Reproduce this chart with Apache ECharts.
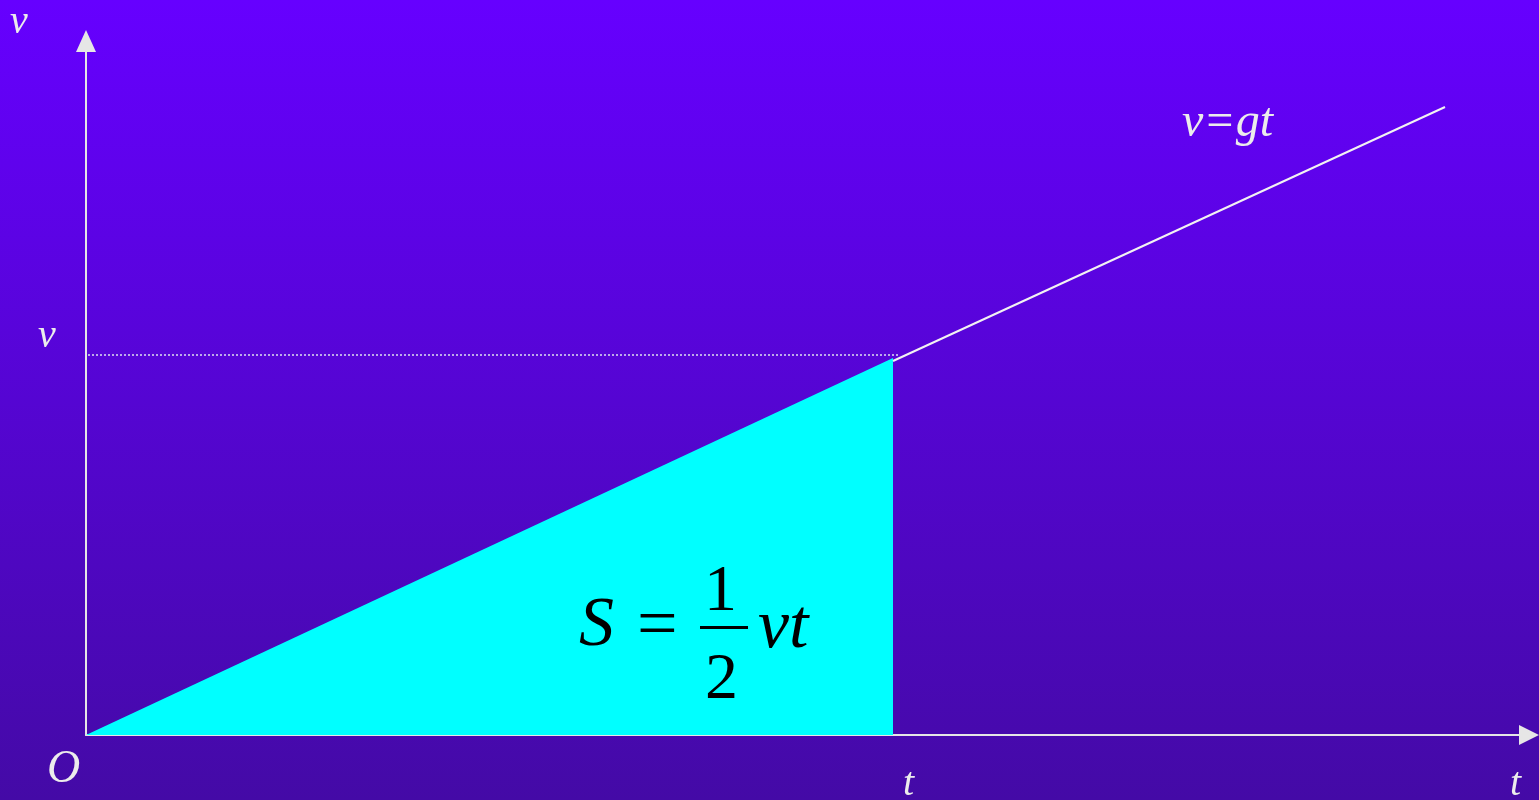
<!DOCTYPE html>
<html>
<head>
<meta charset="utf-8">
<script src="https://cdn.jsdelivr.net/npm/echarts@6/dist/echarts.min.js"></script>
<style>
html, body { margin: 0; padding: 0; }
#main { width: 1539px; height: 800px; }
</style>
</head>
<body>
<div id="main"></div>
<script>
// 时间 t 与速度 v (1 单位 = 100px)
var areaT = [0, 8.07];
var areaV = [0, 3.77];
var lineT = [8.07, 13.59];
var lineV = [3.74, 6.28];
var dotT = [-0.06, 8.14];
var dotV = [3.80, 3.80];

function pairs(xs, ys) {
    var out = [];
    for (var i = 0; i < xs.length; i++) {
        out.push([xs[i], ys[i]]);
    }
    return out;
}

var textColor = '#ececec';
var serif = '"Liberation Serif", "DejaVu Serif", serif';

var myChart = echarts.init(document.getElementById('main'));
var option = {
    animation: false,
    backgroundColor: {
        type: 'linear', x: 0, y: 0, x2: 0, y2: 1,
        colorStops: [
            { offset: 0, color: '#6600ff' },
            { offset: 1, color: '#440aa6' }
        ]
    },
    grid: { left: 86, right: 10, top: 41, bottom: 65 },
    xAxis: {
        type: 'value', min: 0, max: 14.43,
        axisLine: {
            onZero: true,
            symbol: ['none', 'triangle'],
            symbolSize: [20, 20],
            lineStyle: { color: '#e6e6e6', width: 2 }
        },
        axisTick: { show: false },
        axisLabel: { show: false },
        splitLine: { show: false }
    },
    yAxis: {
        type: 'value', min: 0, max: 6.94,
        axisLine: {
            show: true,
            onZero: true,
            symbol: ['none', 'triangle'],
            symbolSize: [20, 22],
            lineStyle: { color: '#e6e6e6', width: 2 }
        },
        axisTick: { show: false },
        axisLabel: { show: false },
        splitLine: { show: false }
    },
    series: [
        {
            type: 'line',
            data: pairs(areaT, areaV),
            showSymbol: false,
            lineStyle: { width: 0 },
            areaStyle: { color: '#00ffff', opacity: 1 },
            z: 2
        },
        {
            type: 'line',
            data: pairs(lineT, lineV),
            showSymbol: false,
            lineStyle: { color: '#f2f2f2', width: 2 },
            z: 3
        },
        {
            type: 'line',
            data: pairs(dotT, dotV),
            showSymbol: false,
            clip: false,
            lineStyle: { color: '#e0e0f0', width: 1.5, type: [2, 2] },
            z: 3
        }
    ],
    graphic: [
        { type: 'text', z: 10, left: 10, top: 2, style: { text: 'v', fill: textColor, font: 'italic 40px ' + serif } },
        { type: 'text', z: 10, left: 38, top: 316, style: { text: 'v', fill: textColor, font: 'italic 40px ' + serif } },
        { type: 'text', z: 10, left: 47, top: 747, style: { text: 'O', fill: textColor, font: 'italic 46px ' + serif } },
        { type: 'text', z: 10, left: 903, top: 764, style: { text: 't', fill: textColor, font: 'italic 40px ' + serif } },
        { type: 'text', z: 10, left: 1510, top: 764, style: { text: 't', fill: textColor, font: 'italic 40px ' + serif } },
        { type: 'text', z: 10, left: 1182, top: 99, style: { text: 'v=gt', fill: textColor, font: 'italic 48px ' + serif } },
        // S = 1/2 vt
        { type: 'text', z: 10, left: 579, top: 592, style: { text: 'S', fill: '#000', font: 'italic 70px ' + serif } },
        { type: 'text', z: 10, left: 637, top: 592, style: { text: '=', fill: '#000', font: '72px ' + serif } },
        { type: 'text', z: 10, left: 704, top: 560, style: { text: '1', fill: '#000', font: '66px ' + serif } },
        { type: 'rect', z: 10, shape: { x: 700, y: 626, width: 48, height: 3 }, style: { fill: '#000' } },
        { type: 'text', z: 10, left: 705, top: 648, style: { text: '2', fill: '#000', font: '66px ' + serif } },
        { type: 'text', z: 10, left: 758, top: 594, style: { text: 'vt', fill: '#000', font: 'italic 70px ' + serif } }
    ]
};
myChart.setOption(option);
</script>
</body>
</html>
